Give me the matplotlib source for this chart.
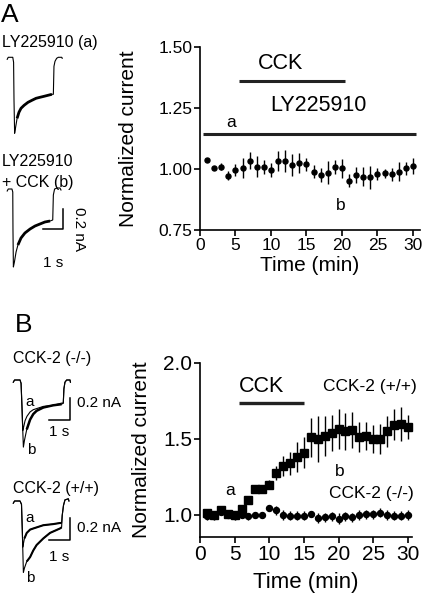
import matplotlib.pyplot as plt
from matplotlib.ticker import FormatStrFormatter

plt.rcParams['font.family'] = ['Liberation Sans', 'DejaVu Sans']

W, H = 426, 600

# ---- panel A: LY225910 then CCK, time course ----
a_time = list(range(1, 31))
a_mean = [1.035, 1.005, 1.01, 0.973, 0.996, 1.005, 1.033, 1.01, 1.008, 0.996,
          1.033, 1.033, 1.016, 1.025, 1.02, 0.989, 0.975, 0.985, 1.008, 1.003,
          0.952, 0.975, 0.969, 0.966, 0.979, 0.982, 0.979, 0.989, 1.003, 1.013]
a_err = [0.007, 0.007, 0.014, 0.02, 0.025, 0.04, 0.035, 0.044, 0.03, 0.027,
         0.04, 0.044, 0.044, 0.04, 0.027, 0.027, 0.03, 0.048, 0.03, 0.038,
         0.027, 0.034, 0.04, 0.048, 0.025, 0.02, 0.027, 0.038, 0.027, 0.034]

# ---- panel B: CCK-2 (+/+) and (-/-) ----
b_time = list(range(1, 31))
wt_mean = [1.01, 1.0, 1.03, 1.005, 1.0, 1.04, 1.10, 1.17, 1.17, 1.20,
           1.275, 1.32, 1.34, 1.38, 1.41, 1.51, 1.50, 1.52, 1.54, 1.565,
           1.55, 1.56, 1.515, 1.52, 1.50, 1.50, 1.55, 1.595, 1.60, 1.58]
wt_err = [0.02, 0.02, 0.02, 0.02, 0.02, 0.02, 0.01, 0.02, 0.02, 0.03,
          0.045, 0.065, 0.075, 0.10, 0.10, 0.13, 0.15, 0.13, 0.12, 0.13,
          0.12, 0.12, 0.10, 0.09, 0.09, 0.10, 0.10, 0.10, 0.11, 0.077]
ko_mean = [0.99, 0.99, 1.02, 1.0, 0.99, 1.0, 0.99, 1.0, 1.0, 1.045,
           1.03, 1.0, 0.995, 0.995, 0.995, 1.005, 0.98, 0.985, 0.99, 0.975,
           0.99, 0.985, 1.0, 1.005, 1.005, 1.015, 1.0, 0.995, 0.995, 1.0]
ko_err = [0.02, 0.02, 0.02, 0.02, 0.02, 0.02, 0.02, 0.02, 0.02, 0.02,
          0.03, 0.03, 0.03, 0.03, 0.03, 0.02, 0.03, 0.03, 0.03, 0.035,
          0.03, 0.03, 0.03, 0.03, 0.03, 0.03, 0.03, 0.03, 0.03, 0.03]

# ---- example current traces (s, nA) ----
ly_t = [0.01, 0.06, 0.28, 0.32, 0.34, 0.37, 0.41, 0.49, 0.58, 0.68, 0.83, 1.02,
        1.21, 1.41, 1.60, 1.80, 1.99, 2.18, 2.25, 2.28, 2.33, 2.41, 2.49, 2.66, 2.68]
ly_i = [-0.02, 0, 0, -0.05, -0.43, -0.76, -0.71, -0.61, -0.55, -0.51, -0.48, -0.45,
        -0.43, -0.41, -0.40, -0.39, -0.38, -0.37, -0.37, -0.09, -0.04, -0.01, 0, 0, -0.01]
lycck_t = [0.01, 0.06, 0.24, 0.28, 0.29, 0.31, 0.36, 0.44, 0.53, 0.68, 0.87, 1.12,
           1.36, 1.60, 1.84, 2.09, 2.22, 2.25, 2.31, 2.43, 2.57, 2.62]
lycck_i = [-0.02, 0, 0, -0.03, -0.41, -0.78, -0.73, -0.63, -0.56, -0.49, -0.44, -0.40,
           -0.37, -0.35, -0.33, -0.32, -0.31, -0.06, 0, 0.01, 0.01, -0.01]

ko_a_t = [0.0, 0.06, 0.32, 0.37, 0.42, 0.45, 0.49, 0.56, 0.65, 0.80, 0.95, 1.11,
          1.43, 1.90, 2.30, 2.38, 2.41, 2.46, 2.54, 2.70, 2.72]
ko_a_i = [-0.02, 0, 0, -0.03, -0.26, -0.46, -0.43, -0.37, -0.33, -0.29, -0.27, -0.26,
          -0.24, -0.23, -0.21, -0.21, -0.08, -0.02, 0, 0, -0.02]
ko_b_t = [0.0, 0.06, 0.32, 0.37, 0.43, 0.48, 0.53, 0.64, 0.80, 0.95, 1.11, 1.43,
          1.90, 2.30, 2.38, 2.41, 2.46, 2.54, 2.70, 2.72]
ko_b_i = [-0.02, 0, 0, -0.03, -0.35, -0.61, -0.55, -0.45, -0.36, -0.31, -0.28, -0.25,
          -0.23, -0.22, -0.21, -0.08, -0.02, 0, 0, -0.02]

wt_a_t = [0.0, 0.06, 0.32, 0.39, 0.43, 0.45, 0.49, 0.53, 0.64, 0.80, 0.95, 1.43,
          1.90, 2.22, 2.30, 2.33, 2.39, 2.46, 2.62, 2.65]
wt_a_i = [-0.02, 0, 0, -0.03, -0.26, -0.42, -0.38, -0.34, -0.29, -0.26, -0.25, -0.22,
          -0.21, -0.20, -0.20, -0.13, -0.04, 0.01, 0.02, 0]
wt_b_t = [0.0, 0.06, 0.32, 0.39, 0.44, 0.48, 0.53, 0.64, 0.80, 0.95, 1.11, 1.43,
          1.75, 2.22, 2.30, 2.33, 2.39, 2.46, 2.62, 2.65]
wt_b_i = [-0.02, 0, 0, -0.03, -0.35, -0.65, -0.61, -0.55, -0.51, -0.45, -0.40, -0.34,
          -0.29, -0.25, -0.24, -0.13, -0.04, 0.01, 0.02, 0]

fig = plt.figure(figsize=(W / 100, H / 100), dpi=100)


def box(left, top, right, bottom):
    return [left / W, 1 - bottom / H, (right - left) / W, (bottom - top) / H]


def trace_axes(x0, y0, px_s, px_na, w=95, up=12, down=95):
    ax = fig.add_axes(box(x0, y0 - up, x0 + w, y0 + down))
    ax.set_xlim(0, w / px_s)
    ax.set_ylim(-down / px_na, up / px_na)
    ax.axis('off')
    return ax


def noisy(ax, t, i, t0, t1, lw):
    # thin whole trace, thicker for the noisy recovery part
    ax.plot(t, i, color='black', lw=0.8, clip_on=False)
    seg = [k for k in range(len(t)) if t0 <= t[k] <= t1]
    ax.plot([t[k] for k in seg], [i[k] for k in seg], color='black', lw=lw,
            solid_capstyle='butt', clip_on=False)


def scale_bar(ax, x, ytop, ybot, label_y, size):
    ax.plot([x - 1, x, x], [ybot, ybot, ytop], color='black', lw=1.1, clip_on=False)
    ax.text(x - 0.5, label_y, '1 s', ha='center', va='center', fontsize=size)


def style(ax, tick_size):
    for s in ['top', 'right']:
        ax.spines[s].set_visible(False)
    for s in ['left', 'bottom']:
        ax.spines[s].set_linewidth(1.2)
    ax.tick_params(direction='out', length=4, width=1.2, labelsize=tick_size, pad=1.5)


# panel letters and trace labels
fig.text(10 / W, 1 - 15 / H, 'A', fontsize=19, ha='center', va='center')
fig.text(24 / W, 1 - 325 / H, 'B', fontsize=19, ha='center', va='center')
fig.text(2 / W, 1 - 43 / H, 'LY225910 (a)', fontsize=11.5, va='center')
fig.text(2 / W, 1 - 162 / H, 'LY225910', fontsize=11.5, va='center')
fig.text(2 / W, 1 - 182 / H, '+ CCK (b)', fontsize=11.5, va='center')
fig.text(13 / W, 1 - 358 / H, 'CCK-2 (-/-)', fontsize=11.5, va='center')
fig.text(13 / W, 1 - 488 / H, 'CCK-2 (+/+)', fontsize=11.5, va='center')

# traces panel A
t1 = trace_axes(7, 57.3, 20.6, 100)
noisy(t1, ly_t, ly_i, 0.45, 2.2, 2.0)
t2 = trace_axes(7, 189, 20.6, 100)
noisy(t2, lycck_t, lycck_i, 0.45, 2.2, 2.0)
scale_bar(t2, 2.73, -0.2, -0.4, -0.74, 11)
t2.text(3.5, -0.40, '0.2 nA', rotation=270, ha='center', va='center', fontsize=11)

# traces panel B
t3 = trace_axes(13.3, 380, 21, 110)
t3.plot(ko_a_t, ko_a_i, color='black', lw=0.8, clip_on=False)
noisy(t3, ko_b_t, ko_b_i, 0.6, 2.3, 1.8)
scale_bar(t3, 2.7, -0.16, -0.36, -0.47, 11)
t3.text(3.03, -0.21, '0.2 nA', ha='left', va='center', fontsize=11)
t3.text(0.80, -0.20, 'a', ha='center', va='center', fontsize=11)
t3.text(0.84, -0.64, 'b', ha='center', va='center', fontsize=11)

t4 = trace_axes(13.3, 501, 21, 110)
noisy(t4, wt_a_t, wt_a_i, 0.5, 2.3, 1.5)
noisy(t4, wt_b_t, wt_b_i, 0.6, 2.3, 1.5)
scale_bar(t4, 2.7, -0.15, -0.35, -0.51, 11)
t4.text(3.03, -0.245, '0.2 nA', ha='left', va='center', fontsize=11)
t4.text(0.77, -0.155, 'a', ha='center', va='center', fontsize=11)
t4.text(0.82, -0.70, 'b', ha='center', va='center', fontsize=11)

# main plot A
axA = fig.add_axes(box(200, 47, 420, 230))
axA.errorbar(a_time, a_mean, yerr=a_err, fmt='o', color='black', ms=3.6,
             elinewidth=1.0, capsize=0, clip_on=False)
axA.plot([5.5, 20.5], [1.362, 1.362], color='#222222', lw=2.2, solid_capstyle='butt')
axA.plot([0.47, 30.5], [1.143, 1.143], color='#222222', lw=2.2, solid_capstyle='butt')
axA.text(11.4, 1.433, 'CCK', ha='center', va='center', fontsize=15.5)
axA.text(16.7, 1.262, 'LY225910', ha='center', va='center', fontsize=15.5)
axA.text(4.4, 1.19, 'a', ha='center', va='center', fontsize=12.5)
axA.text(19.9, 0.85, 'b', ha='center', va='center', fontsize=12.5)
axA.set_xlim(0, 31)
axA.set_ylim(0.75, 1.50)
axA.set_xticks([0, 5, 10, 15, 20, 25, 30])
axA.set_yticks([0.75, 1.00, 1.25, 1.50])
axA.yaxis.set_major_formatter(FormatStrFormatter('%.2f'))
style(axA, 12.5)
axA.set_ylabel('Normalized current', fontsize=15, va='center')
axA.yaxis.set_label_coords(-0.327, 0.5)
axA.set_xlabel('Time (min)', fontsize=15, va='center')
axA.xaxis.set_label_coords(0.5, -0.195)

# main plot B
axB = fig.add_axes(box(200, 363, 412, 537))
axB.errorbar(b_time, ko_mean, yerr=ko_err, fmt='o', color='black', ms=4.3,
             elinewidth=1.0, capsize=0, clip_on=False)
axB.errorbar(b_time, wt_mean, yerr=wt_err, fmt='s', color='black', ms=5.3,
             elinewidth=1.0, capsize=0, clip_on=False)
axB.plot([5.66, 15.0], [1.74, 1.74], color='#222222', lw=2.4, solid_capstyle='butt')
axB.text(8.9, 1.848, 'CCK', ha='center', va='center', fontsize=15.5)
axB.text(24.5, 1.848, 'CCK-2 (+/+)', ha='center', va='center', fontsize=12.5)
axB.text(24.8, 1.143, 'CCK-2 (-/-)', ha='center', va='center', fontsize=12.5)
axB.text(20.2, 1.286, 'b', ha='center', va='center', fontsize=12.5)
axB.text(4.4, 1.16, 'a', ha='center', va='center', fontsize=12.5)
axB.set_xlim(0, 30.6)
axB.set_ylim(0.855, 2.0)
axB.set_xticks([0, 5, 10, 15, 20, 25, 30])
axB.set_yticks([1.0, 1.5, 2.0])
axB.yaxis.set_major_formatter(FormatStrFormatter('%.1f'))
style(axB, 15)
axB.set_ylabel('Normalized current', fontsize=15, va='center')
axB.yaxis.set_label_coords(-0.274, 0.5)
axB.set_xlabel('Time (min)', fontsize=16, va='center')
axB.xaxis.set_label_coords(0.5, -0.259)

fig.savefig('out.png', dpi=100)
